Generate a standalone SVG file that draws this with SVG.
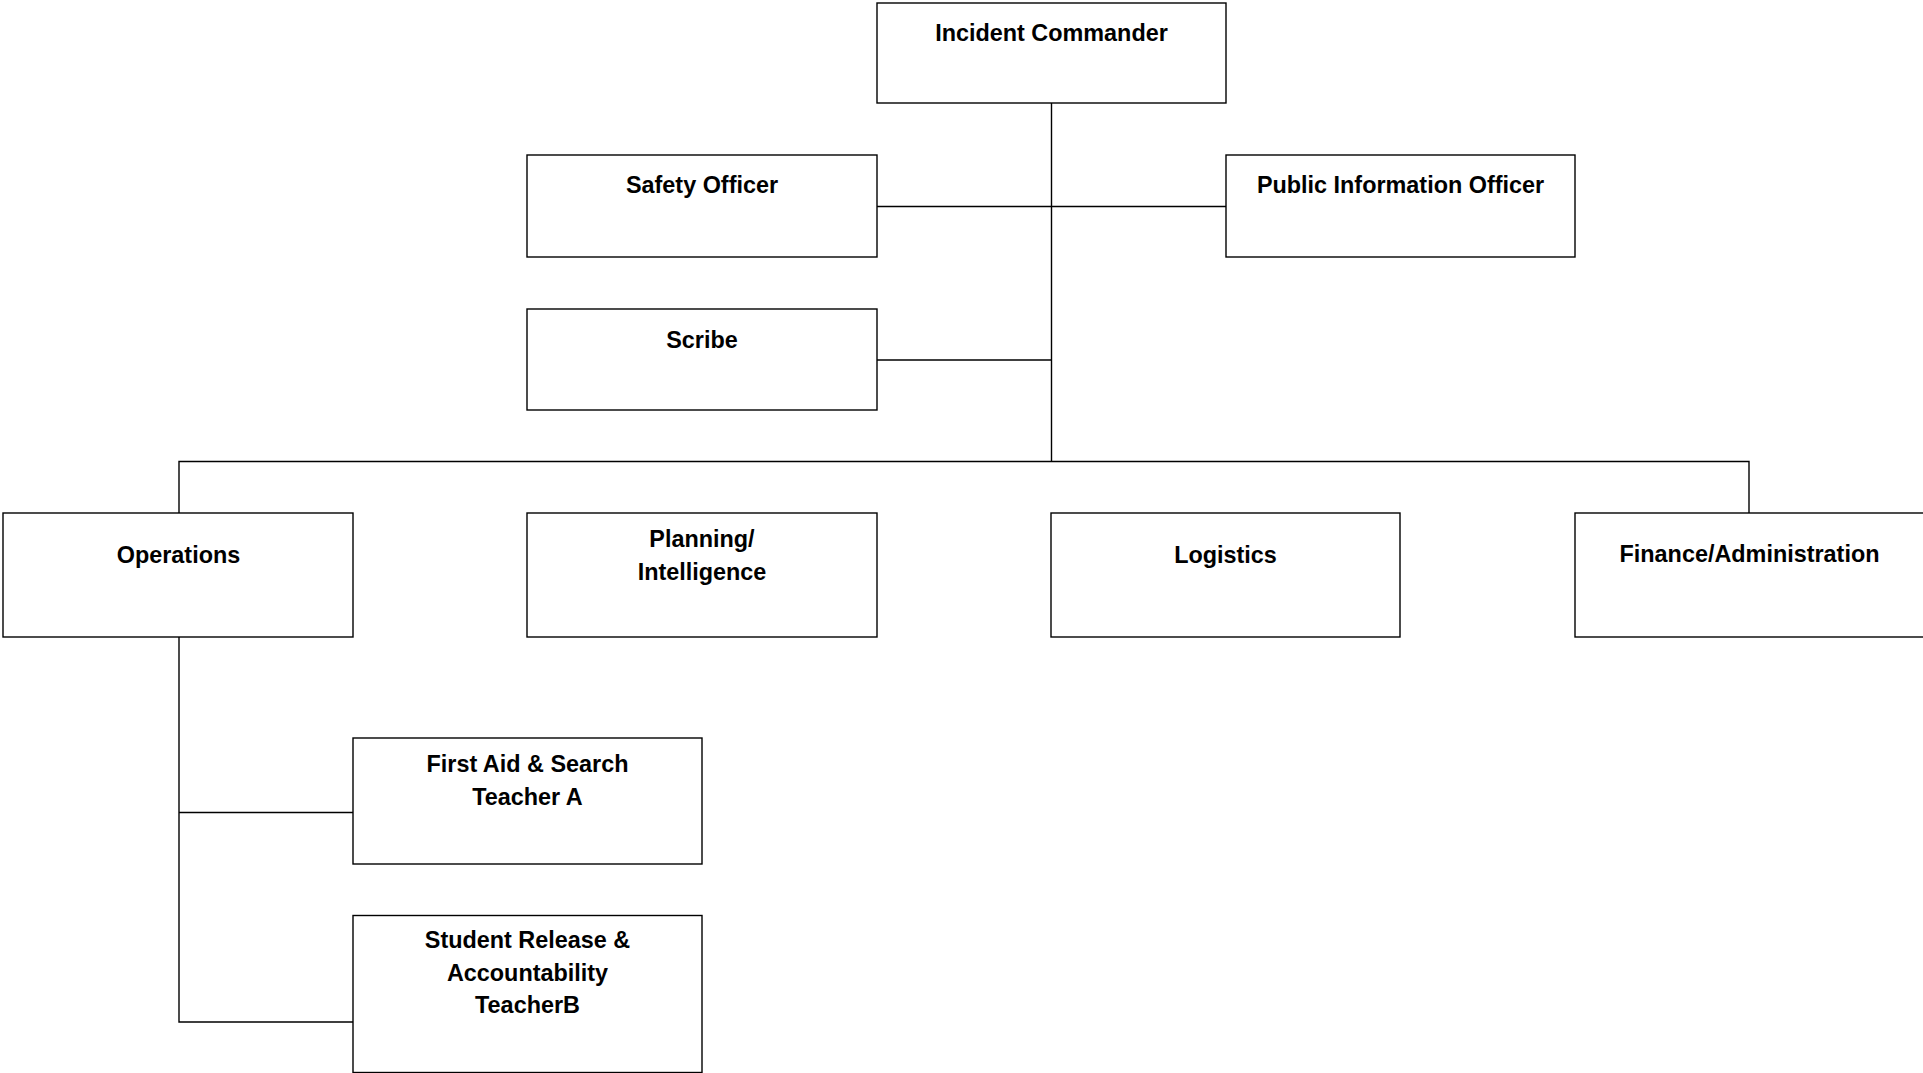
<svg xmlns="http://www.w3.org/2000/svg" width="1923" height="1073" viewBox="0 0 1923 1073">
<style>
.box{fill:#fff;stroke:#000;stroke-width:1.4}
.c{fill:none;stroke:#000;stroke-width:1.4}
text{font-family:"Liberation Sans",Arial,sans-serif;font-weight:bold;font-size:23.4px;fill:#000;text-anchor:middle}
</style>
<rect width="1923" height="1073" fill="#fff"/>
<g id="connectors">
<path class="c" d="M1051.5 103V461.5"/>
<path class="c" d="M877 206.5H1226"/>
<path class="c" d="M877 360H1051.5"/>
<path class="c" d="M179 513V461.5H1749V513"/>
<path class="c" d="M179 637V1022H353"/>
<path class="c" d="M179 812.5H353"/>
</g>
<g id="incident-commander"><rect class="box" x="877" y="3" width="349" height="100"/><text x="1051.5" y="41">Incident Commander</text></g>
<g id="safety-officer"><rect class="box" x="527" y="155" width="350" height="102"/><text x="702" y="193">Safety Officer</text></g>
<g id="public-information-officer"><rect class="box" x="1226" y="155" width="349" height="102"/><text x="1400.5" y="193">Public Information Officer</text></g>
<g id="scribe"><rect class="box" x="527" y="309" width="350" height="101"/><text x="702" y="348">Scribe</text></g>
<g id="operations"><rect class="box" x="3" y="513" width="350" height="124"/><text x="178.5" y="562.5">Operations</text></g>
<g id="planning"><rect class="box" x="527" y="513" width="350" height="124"/><text x="702" y="546.5">Planning/</text><text x="702" y="579.5">Intelligence</text></g>
<g id="logistics"><rect class="box" x="1051" y="513" width="349" height="124"/><text x="1225.5" y="562.5">Logistics</text></g>
<g id="finance"><rect class="box" x="1575" y="513" width="349" height="124"/><text x="1749.5" y="561.5">Finance/Administration</text></g>
<g id="first-aid"><rect class="box" x="353" y="738" width="349" height="126"/><text x="527.5" y="771.5">First Aid &amp; Search</text><text x="527.5" y="804.5">Teacher A</text></g>
<g id="student-release"><rect class="box" x="353" y="915.5" width="349" height="157"/><text x="527.5" y="948">Student Release &amp;</text><text x="527.5" y="981">Accountability</text><text x="527.5" y="1013">TeacherB</text></g>
</svg>
